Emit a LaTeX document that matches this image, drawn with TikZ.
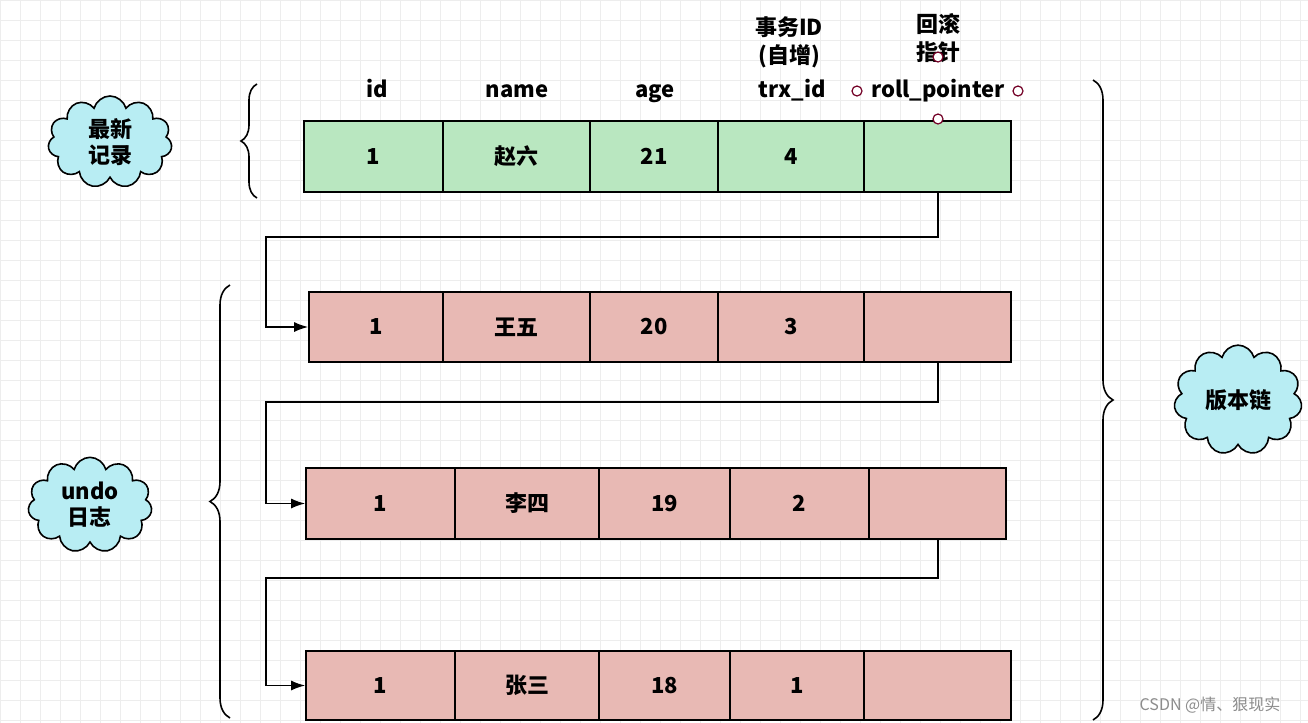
\documentclass[tikz,border=0pt]{standalone}
\usepackage{fontspec}
\setmainfont{Noto Sans CJK SC}
\usetikzlibrary{shapes.symbols,decorations.pathreplacing,arrows.meta}
\definecolor{gfill}{HTML}{B9E7C0}
\definecolor{rfill}{HTML}{E8B9B4}
\definecolor{cfill}{HTML}{B8EDF3}
\begin{document}
\begin{tikzpicture}[x=0.5pt,y=-0.5pt,
  font=\fontsize{11}{13}\selectfont\bfseries,
  cellg/.style={draw=black,line width=0.8pt,fill=gfill},
  cellr/.style={draw=black,line width=0.8pt,fill=rfill},
  lnk/.style={line width=0.8pt,-{Latex[length=7pt,width=5pt]}},
  cloudy/.style={cloud,cloud puffs=11,draw=black,line width=0.8pt,fill=cfill,align=center,inner sep=0pt},
  brc/.style={decorate,line width=0.8pt},
  hdr/.style={text height=8pt,text depth=2.5pt},
  pin/.style={circle,draw=purple!60!black,fill=white,inner sep=0pt,minimum size=5pt,line width=0.6pt}]
\useasboundingbox (0,0) rectangle (1308,723);
\fill[white] (0,0) rectangle (1308,723);
\foreach \x in {0,20,...,1300} \draw[black!7,line width=0.3pt] (\x,0) -- (\x,723);
\foreach \y in {0,20,...,720} \draw[black!7,line width=0.3pt] (0,\y) -- (1308,\y);
% rows
\foreach \xa/\xb/\t [count=\i] in {304/443/1,443/590/赵六,590/718/21,718/864/4,864/1011/{}}
  \node[cellg,minimum width=(\xb-\xa)*0.5pt,minimum height=35.5pt] (g\i) at ({(\xa+\xb)/2},156.5) {\t};
\foreach \xa/\xb/\t [count=\i] in {309/443/1,443/590/王五,590/718/20,718/864/3,864/1011/{}}
  \node[cellr,minimum width=(\xb-\xa)*0.5pt,minimum height=35pt] (a\i) at ({(\xa+\xb)/2},327) {\t};
\foreach \xa/\xb/\t [count=\i] in {306/455/1,455/599/李四,599/730/19,730/869/2,869/1006/{}}
  \node[cellr,minimum width=(\xb-\xa)*0.5pt,minimum height=35.5pt] (b\i) at ({(\xa+\xb)/2},503.5) {\t};
\foreach \xa/\xb/\t [count=\i] in {306/455/1,455/599/张三,599/730/18,730/864/1,864/1011/{}}
  \node[cellr,minimum width=(\xb-\xa)*0.5pt,minimum height=34.5pt] (c\i) at ({(\xa+\xb)/2},685.5) {\t};
% links
\draw[lnk] (938,192) |- (266,237) |- (a1.west);
\draw[lnk] (938,362) |- (266,402) |- (b1.west);
\draw[lnk] (938,539) |- (266,578) |- (c1.west);
% headers
\node[hdr] (h1) at (377,92) {id};
\node[hdr] (h2) at (517,92) {name};
\node[hdr] (h3) at (655,92) {age};
\node[hdr] (h4) at (792,92) {trx\_id};
\node[hdr] (h5) at (938,92) {roll\_pointer};
\node[align=center,inner sep=0pt,font=\fontsize{11}{14}\selectfont\bfseries] (t4) at (789,42) {事务ID\\(自增)};
\node[align=center,inner sep=0pt,font=\fontsize{11}{14}\selectfont\bfseries] (t5) at (938,38) {回滚\\指针};
\node[pin] (p1) at (857,91) {};
\node[pin] (p2) at (1018,91) {};
\node[pin] (p3) at (938,119) {};
\node[pin] (p4) at (938,57) {};
% braces
\draw[brc,decoration={brace,amplitude=8pt}] (257,198) -- (257,84);
\draw[brc,decoration={brace,amplitude=10pt}] (230,718) -- (230,285);
\draw[brc,decoration={brace,amplitude=10pt}] (1093,80) -- (1093,720);
% clouds
\node[cloudy,minimum width=62pt,minimum height=46pt] (c1c) at (110,142) {最新\\记录};
\node[cloudy,minimum width=62pt,minimum height=46pt] (c2c) at (90,505) {undo\\日志};
\node[cloudy,minimum width=64pt,minimum height=48pt] (c3c) at (1238,400) {版本链};
\node[font=\fontsize{8}{10}\selectfont,text=black!45] (wm) at (1210,705) {CSDN @情、狠现实};
\end{tikzpicture}
\end{document}
